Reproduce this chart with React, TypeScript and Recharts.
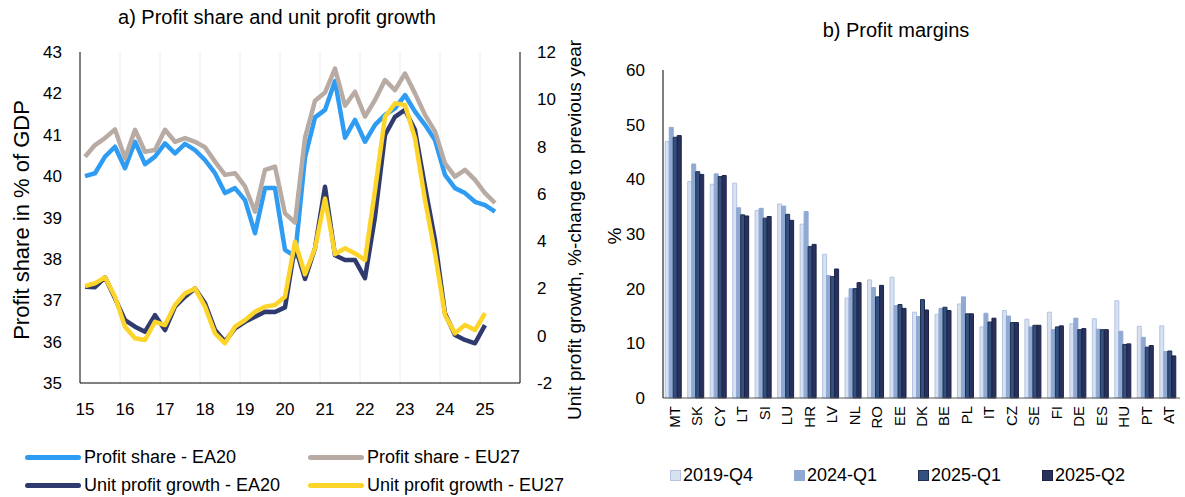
import React from "react";
import {
  LineChart,
  Line,
  BarChart,
  Bar,
  XAxis,
  YAxis,
  ReferenceLine,
} from "recharts";

const FONT = "'Liberation Sans', Arial, sans-serif";

// a) quarters 2015Q1..2025Q4
const years = ["15", "16", "17", "18", "19", "20", "21", "22", "23", "24", "25"];
const quarters = years.flatMap((y) => ["Q1", "Q2", "Q3", "Q4"].map((q) => `20${y}${q}`));

const profitShareEA20 = [
  40.0, 40.07, 40.47, 40.71, 40.19, 40.83, 40.29, 40.47, 40.79, 40.55, 40.78, 40.63,
  40.39, 40.07, 39.59, 39.71, 39.42, 38.62, 39.71, 39.71, 38.22, 38.06, 40.45, 41.42,
  41.6, 42.3, 40.93, 41.36, 40.83, 41.24, 41.48, 41.64, 41.96, 41.56, 41.24, 40.87,
  40.03, 39.71, 39.59, 39.38, 39.3, 39.14,
];
const profitShareEU27 = [
  40.47, 40.75, 40.92, 41.13, 40.43, 41.12, 40.59, 40.63, 41.12, 40.83, 40.92, 40.83,
  40.7, 40.35, 40.03, 40.07, 39.75, 39.14, 40.15, 40.23, 39.1, 38.88, 40.93, 41.82,
  42.02, 42.6, 41.7, 42.04, 41.44, 41.84, 42.32, 42.08, 42.48, 42.0, 41.48, 41.08,
  40.31, 39.99, 40.15, 39.91, 39.59, 39.35,
];
const unitProfitEA20 = [
  2.07, 2.05, 2.47, 1.58, 0.66, 0.38, 0.17, 0.87, 0.24, 1.23, 1.65, 2.0,
  1.37, 0.24, -0.25, 0.31, 0.59, 0.8, 1.01, 1.0, 1.2, 3.8, 2.4, 3.7,
  6.3, 3.4, 3.2, 3.2, 2.43, 5.03, 8.49, 9.26, 9.55, 8.7, 6.3, 4.05,
  0.94, 0.03, -0.18, -0.32, 0.45,
];
const unitProfitEU27 = [
  2.1, 2.22, 2.47, 1.65, 0.38, -0.11, -0.18, 0.59, 0.45, 1.3, 1.79, 2.0,
  1.23, 0.1, -0.32, 0.38, 0.66, 1.01, 1.23, 1.3, 1.65, 3.98, 2.6, 3.7,
  5.8, 3.45, 3.7, 3.48, 3.2, 6.16, 9.26, 9.83, 9.76, 8.35, 5.74, 3.48,
  0.87, 0.1, 0.45, 0.24, 0.95,
];

// b) profit margins by country
const countries = ["MT", "SK", "CY", "LT", "SI", "LU", "HR", "LV", "NL", "RO", "EE", "DK", "BE", "PL", "IT", "CZ", "SE", "FI", "DE", "ES", "HU", "PT", "AT"];
const margin2019Q4 = [46.9, 39.6, 39.1, 39.3, 34.3, 35.5, 31.8, 26.3, 18.3, 21.6, 22.1, 15.7, 15.3, 17.2, 13.0, 16.0, 14.4, 15.7, 13.6, 14.5, 17.8, 13.1, 13.2];
const margin2024Q1 = [49.5, 42.8, 41.0, 34.8, 34.7, 35.1, 34.1, 22.4, 20.0, 20.2, 16.9, 14.9, 16.4, 18.5, 15.5, 15.0, 13.0, 12.5, 14.6, 12.6, 12.2, 11.1, 8.5];
const margin2025Q1 = [47.7, 41.4, 40.5, 33.5, 32.9, 33.6, 27.7, 22.2, 20.0, 18.5, 17.1, 18.0, 16.6, 15.4, 13.9, 13.8, 13.3, 13.0, 12.5, 12.5, 9.8, 9.3, 8.6];
const margin2025Q2 = [48.0, 40.9, 40.7, 33.3, 33.2, 32.5, 28.1, 23.6, 21.1, 20.6, 16.4, 16.1, 16.0, 15.4, 14.6, 13.8, 13.3, 13.2, 12.7, 12.5, 9.9, 9.6, 7.7];

const lineSeries = [
  { key: "psEA", name: "Profit share - EA20", color: "#2f9cf4", axis: "left" },
  { key: "psEU", name: "Profit share - EU27", color: "#b8aba4", axis: "left" },
  { key: "upEA", name: "Unit profit growth - EA20", color: "#2f3a6f", axis: "right" },
  { key: "upEU", name: "Unit profit growth - EU27", color: "#fdd52a", axis: "right" },
];

const barSeries = [
  { key: "q419", name: "2019-Q4", fill: "#d8e1ef", stroke: "#b3c4e2" },
  { key: "q124", name: "2024-Q1", fill: "#8fa9d3", stroke: "#8fa9d3" },
  { key: "q125", name: "2025-Q1", fill: "#33507e", stroke: "#1f2f4f" },
  { key: "q225", name: "2025-Q2", fill: "#28315d", stroke: "#1c2346" },
];

const lineData = quarters.map((q, i) => ({
  idx: i,
  quarter: q,
  psEA: profitShareEA20[i] ?? null,
  psEU: profitShareEU27[i] ?? null,
  upEA: unitProfitEA20[i] ?? null,
  upEU: unitProfitEU27[i] ?? null,
}));

const barData = countries.map((c, i) => ({
  country: c,
  q419: margin2019Q4[i],
  q124: margin2024Q1[i],
  q125: margin2025Q1[i],
  q225: margin2025Q2[i],
}));

const yearTicks = years.map((_, i) => i * 4);
const yearBreaks = years.slice(1).map((_, i) => (i + 1) * 4 - 0.5);

const tickStyle = { fontSize: 17, fill: "#000", fontFamily: FONT };

const CountryTick = ({ x, y, payload }: any) => (
  <text
    x={x}
    y={y}
    transform={`rotate(-90, ${x}, ${y})`}
    textAnchor="end"
    dominantBaseline="central"
    fontSize={15}
    fontFamily={FONT}
    fill="#000"
  >
    {payload.value}
  </text>
);

const abs = (left: number, top: number): React.CSSProperties => ({
  position: "absolute",
  left,
  top,
  fontFamily: FONT,
  color: "#000",
  whiteSpace: "nowrap",
});

const Rotated = ({ x, y, size, children }: any) => (
  <div
    style={{
      ...abs(x, y),
      fontSize: size,
      transform: "translate(-50%, -50%) rotate(-90deg)",
    }}
  >
    {children}
  </div>
);

export default function App() {
  return (
    <div style={{ position: "absolute", left: 0, top: 0, width: 1185, height: 497, background: "#fff", overflow: "hidden" }}>
      {/* a) line chart */}
      <div style={{ position: "absolute", left: 0, top: 0 }}>
        <LineChart
          width={600}
          height={497}
          data={lineData}
          margin={{ top: 52, right: 20, left: 20, bottom: 84 }}
        >
          <XAxis
            dataKey="idx"
            type="number"
            domain={[-0.5, 43.5]}
            ticks={yearTicks}
            tickFormatter={(v: number) => years[v / 4]}
            interval={0}
            height={30}
            tick={tickStyle}
            tickLine={false}
            tickMargin={14}
            axisLine={{ stroke: "#000" }}
          />
          <YAxis
            yAxisId="left"
            domain={[35, 43]}
            ticks={[35, 36, 37, 38, 39, 40, 41, 42, 43]}
            width={60}
            tick={tickStyle}
            tickLine={false}
            tickMargin={12}
            axisLine={{ stroke: "#000" }}
          />
          <YAxis
            yAxisId="right"
            orientation="right"
            domain={[-2, 12]}
            ticks={[-2, 0, 2, 4, 6, 8, 10, 12]}
            width={60}
            tick={{ ...tickStyle, textAnchor: "start" }}
            tickLine={false}
            tickMargin={11}
            axisLine={{ stroke: "#000" }}
          />
          {yearBreaks.map((b) => (
            <ReferenceLine key={b} x={b} yAxisId="left" stroke="#eeeeee" strokeWidth={1} />
          ))}
          {lineSeries.map((s) => (
            <Line
              key={s.key}
              yAxisId={s.axis}
              dataKey={s.key}
              name={s.name}
              type="linear"
              stroke={s.color}
              strokeWidth={4.5}
              strokeLinejoin="round"
              dot={false}
              isAnimationActive={false}
            />
          ))}
        </LineChart>
      </div>

      <div style={{ ...abs(277, 17), fontSize: 20, transform: "translate(-50%, -50%)" }}>
        a) Profit share and unit profit growth
      </div>
      <Rotated x={22} y={220} size={22}>Profit share in % of GDP</Rotated>
      <Rotated x={575} y={230} size={19}>Unit profit growth, %-change to previous year</Rotated>

      {/* left legend */}
      {lineSeries.map((s, i) => {
        const lx = i % 2 === 0 ? 25 : 308;
        const ly = i < 2 ? 457 : 485;
        return (
          <React.Fragment key={s.key}>
            <div style={{ position: "absolute", left: lx, top: ly - 2.5, width: 56, height: 5, borderRadius: 3, background: s.color }} />
            <div style={{ ...abs(lx + 59, ly), fontSize: 18, transform: "translateY(-50%)" }}>{s.name}</div>
          </React.Fragment>
        );
      })}

      {/* b) bar chart */}
      <div style={{ position: "absolute", left: 600, top: 0 }}>
        <BarChart
          width={585}
          height={497}
          data={barData}
          margin={{ top: 70, right: 5, left: 18, bottom: 59 }}
          barCategoryGap="10%"
          barGap={0}
        >
          <XAxis
            dataKey="country"
            interval={0}
            height={40}
            tickLine={false}
            tick={<CountryTick />}
            axisLine={{ stroke: "#595959" }}
          />
          <YAxis
            domain={[0, 60]}
            ticks={[0, 10, 20, 30, 40, 50, 60]}
            width={45}
            tick={tickStyle}
            tickLine={false}
            tickMargin={12}
            axisLine={{ stroke: "#000" }}
          />
          {barSeries.map((s) => (
            <Bar
              key={s.key}
              dataKey={s.key}
              name={s.name}
              fill={s.fill}
              stroke={s.stroke}
              strokeWidth={1}
              isAnimationActive={false}
            />
          ))}
        </BarChart>
      </div>

      <div style={{ ...abs(896, 30), fontSize: 20, transform: "translate(-50%, -50%)" }}>b) Profit margins</div>
      <Rotated x={615} y={236} size={19}>%</Rotated>

      {/* right legend */}
      {barSeries.map((s, i) => {
        const lx = 670 + i * 124;
        return (
          <React.Fragment key={s.key}>
            <div style={{ position: "absolute", left: lx, top: 470, width: 9, height: 9, background: s.fill, border: `1px solid ${s.stroke}` }} />
            <div style={{ ...abs(lx + 13, 475), fontSize: 18, transform: "translateY(-50%)" }}>{s.name}</div>
          </React.Fragment>
        );
      })}
    </div>
  );
}
